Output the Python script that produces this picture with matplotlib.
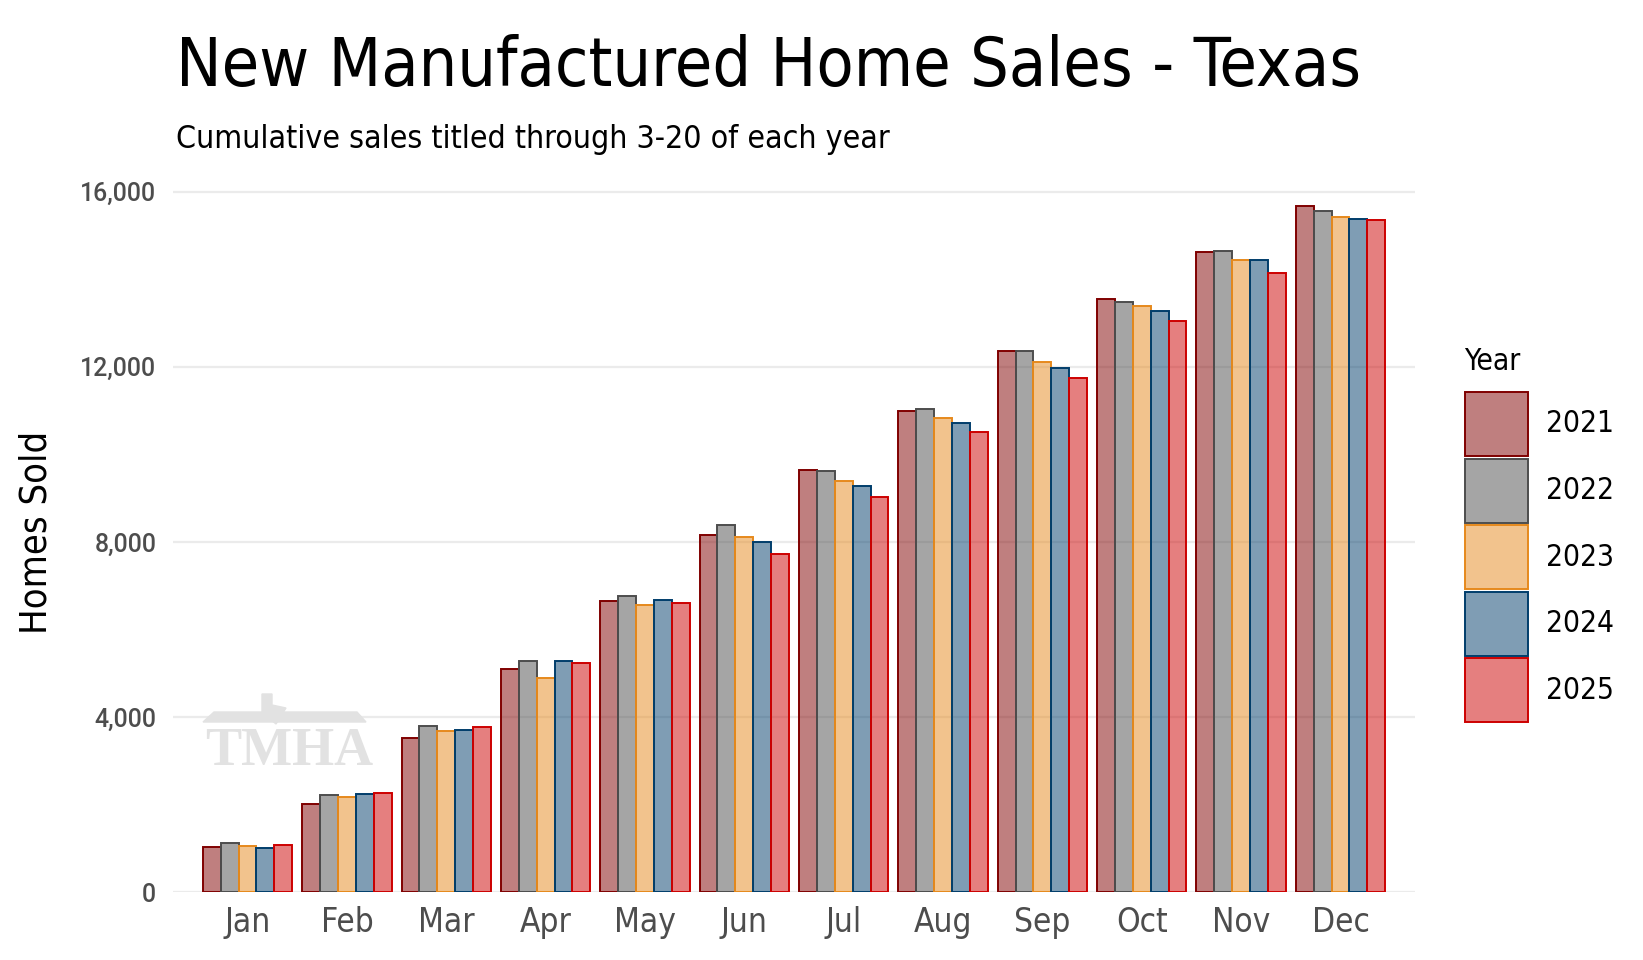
#!/usr/bin/env python3
"""Cumulative new manufactured home sales in Texas, grouped bars by month and year."""
import numpy as np
import matplotlib
matplotlib.use("Agg")
import matplotlib.pyplot as plt
from matplotlib import font_manager as fm
from matplotlib.colors import to_rgba
from matplotlib.patches import Rectangle, Polygon

months = ["Jan", "Feb", "Mar", "Apr", "May", "Jun",
          "Jul", "Aug", "Sep", "Oct", "Nov", "Dec"]
years = ["2021", "2022", "2023", "2024", "2025"]

sales_2021 = [1034, 2001, 3527, 5097, 6651, 8160, 9646, 10994, 12366, 13554, 14613, 15664]
sales_2022 = [1118, 2207, 3801, 5280, 6773, 8389, 9623, 11024, 12350, 13486, 14644, 15550]
sales_2023 = [1042, 2168, 3687, 4891, 6560, 8114, 9394, 10834, 12114, 13379, 14430, 15413]
sales_2024 = [1004, 2237, 3710, 5280, 6674, 7993, 9272, 10720, 11977, 13273, 14430, 15383]
sales_2025 = [1065, 2260, 3771, 5234, 6606, 7733, 9029, 10499, 11749, 13051, 14149, 15360]
series = [sales_2021, sales_2022, sales_2023, sales_2024, sales_2025]

edge_colors = ["#800000", "#4D4D4D", "#E6891C", "#003D6B", "#CD0000"]

yticks = [0, 4000, 8000, 12000, 16000]

W, H = 1643, 960
GREY = "#4D4D4D"

# look for a narrow sans face; the original uses a condensed display font
fonts = fm.fontManager.ttflist
names = {f.name for f in fonts}
COND, STRETCH = "DejaVu Sans", "normal"
for f in fonts:
    low = (f.name + " " + f.fname).lower()
    if f.style == "normal" and ("narrow" in low or "condensed" in low or
                                f.stretch in ("condensed", "semi-condensed", "extra-condensed")):
        if "mono" in low or "serif" in low and "sans" not in low:
            continue
        COND = f.name
        STRETCH = f.stretch if isinstance(f.stretch, str) else "condensed"
        if f.weight in ("normal", 400, "regular"):
            break
NUM = "Roboto" if "Roboto" in names else "DejaVu Sans"
CF = dict(family=COND, fontstretch=STRETCH)

fig = plt.figure(figsize=(W / 100, H / 100), dpi=100)
ax = fig.add_axes([173 / W, 1 - 892 / H, (1415 - 173) / W, (892 - 172) / H])

x = np.arange(1, len(months) + 1)
bw = 0.9 / len(years)
for i, (yr, vals, ec) in enumerate(zip(years, series, edge_colors)):
    ax.bar(x + (i - 2) * bw, vals, width=bw, facecolor=to_rgba(ec, 0.5),
           edgecolor=ec, linewidth=1.4, zorder=3)

rend = fig.canvas.get_renderer()

def size_for(text, target, base=24, **kw):
    t = fig.text(0, 0, text, fontsize=base, **kw)
    w = t.get_window_extent(rend).width
    t.remove()
    return base * target / w

ax.set_xlim(0.25, 12.75)
ax.set_ylim(0, 16450)
ax.set_yticks(yticks)
ax.set_yticklabels([f"{v:,}" for v in yticks],
                   fontsize=min(size_for("16,000", 75, family=NUM, fontstretch="normal"), 21),
                   family=NUM, fontstretch="normal", fontweight="medium", color=GREY)
ax.set_xticks(x)
ax.set_xticklabels(months, fontsize=min(1.1 * size_for("Jan", 42, **CF), 26), color=GREY, **CF)
ax.tick_params(axis="both", length=0)
ax.tick_params(axis="y", pad=12)
ax.tick_params(axis="x", pad=10)
ax.grid(True, axis="y", color="#EBEBEB", linewidth=1.6, zorder=0)
ax.set_axisbelow(True)
for s in ax.spines.values():
    s.set_visible(False)

# faint TMHA watermark behind the first bars
wm = "#E2E2E2"
ax.text(289 / W, 1 - 765 / H, "TMHA", transform=fig.transFigure, ha="center",
        va="baseline", fontsize=39, fontweight="bold", family="Liberation Serif",
        color=wm, zorder=1)
fig.patches.append(Polygon([[203 / W, 1 - 722 / H], [214 / W, 1 - 712 / H],
                            [357 / W, 1 - 712 / H], [366 / W, 1 - 722 / H]],
                           closed=True, transform=fig.transFigure, color=wm, zorder=0))
fig.patches.append(Polygon([[262 / W, 1 - 694 / H], [272 / W, 1 - 694 / H],
                            [272 / W, 1 - 705 / H], [286 / W, 1 - 708 / H],
                            [276 / W, 1 - 724 / H], [262 / W, 1 - 712 / H]],
                           closed=True, transform=fig.transFigure, color=wm, zorder=0))

fig.text(37 / W, 1 - 532 / H, "Homes Sold", rotation=90, ha="center", va="center",
         fontsize=min(1.05 * size_for("Homes Sold", 194, **CF), 34), color="black", **CF)

title_txt = "New Manufactured Home Sales - Texas"
fig.text(176 / W, 1 - 86 / H, title_txt, ha="left", va="baseline",
         fontsize=size_for(title_txt, 1186, **CF), color="black", **CF)
sub_txt = "Cumulative sales titled through 3-20 of each year"
fig.text(176 / W, 1 - 148 / H, sub_txt, ha="left", va="baseline",
         fontsize=size_for(sub_txt, 715, **CF), color="black", **CF)

# legend
fig.text(1464 / W, 1 - 362 / H, "Year", ha="left", va="center",
         fontsize=min(1.05 * size_for("Year", 54, **CF), 25), color="black", **CF)
lab_size = min(1.12 * size_for("2021", 61, **CF), 27)
for i, (yr, ec) in enumerate(zip(years, edge_colors)):
    top = 392 + i * 66.6
    fig.patches.append(Rectangle((1465 / W, 1 - (top + 64) / H), 63 / W, 64 / H,
                                 transform=fig.transFigure, facecolor=to_rgba(ec, 0.5),
                                 edgecolor=ec, linewidth=1.4))
    fig.text(1546 / W, 1 - (top + 32) / H, yr, ha="left", va="center",
             fontsize=lab_size, color="black", **CF)

fig.savefig("out.png", dpi=100)
